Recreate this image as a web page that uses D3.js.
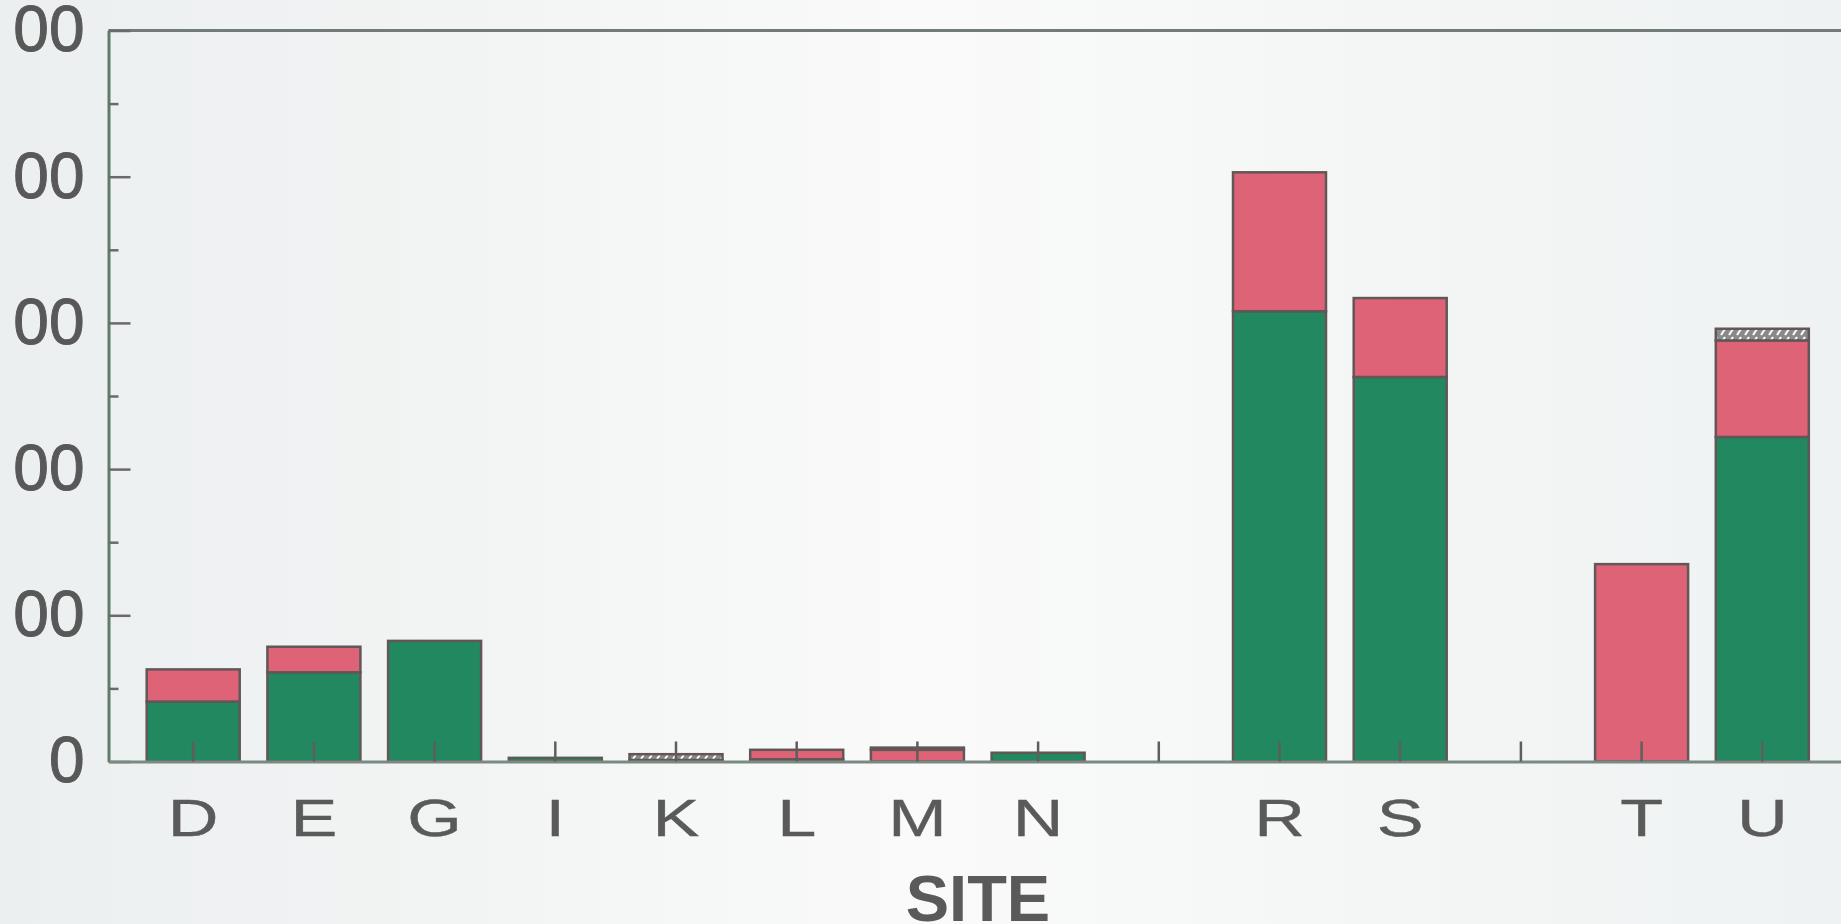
<!DOCTYPE html>
<html>
<head>
<meta charset="utf-8">
<script src="https://cdn.jsdelivr.net/npm/d3@7"></script>
<style>
  html, body { margin: 0; padding: 0; overflow: hidden; background: #f3f5f5; }
  svg { display: block; }
</style>
</head>
<body>
<svg id="chart" width="1841" height="924"></svg>
<script>
// Sites along the x axis; empty strings are spacer slots that only carry a tick.
const sites = ["D", "E", "G", "I", "K", "L", "M", "N", "", "R", "S", "", "T", "U"];

// Stacked components per site (same order as sites), bottom to top.
const greenValues   = [41, 61, 82.5, 2.5, 1, 1.5, 0, 6, 0, 308, 263, 0, 0, 222];
const redValues     = [22, 17.5, 0, 0, 0, 6.5, 8, 0, 0, 95, 54, 0, 135, 66];
const hatchedValues = [0, 0, 0, 0, 4, 0, 1.5, 0, 0, 0, 0, 0, 0, 8];

const yMajorTicks = [0, 100, 200, 300, 400, 500];
const yMinorTicks = [50, 150, 250, 350, 450];
const xTitle = "SITE";

const W = 1841, H = 924;
const plotLeft = 108.5, plotTop = 30.5, plotBottom = 761.5;
const font = "'Liberation Sans', Arial, sans-serif";

const svg = d3.select("#chart");
const defs = svg.append("defs");

// Soft paper-like background
const bg = defs.append("linearGradient").attr("id", "bg").attr("x1", 0).attr("x2", 1).attr("y1", 0).attr("y2", 0);
[["0%", "#eceff0"], ["25%", "#f2f4f4"], ["50%", "#fafafa"], ["75%", "#f4f6f6"], ["100%", "#eff2f2"]]
  .forEach(([o, c]) => bg.append("stop").attr("offset", o).attr("stop-color", c));
svg.append("rect").attr("width", W).attr("height", H).attr("fill", "url(#bg)");

// Hatch pattern for the third component
const pat = defs.append("pattern").attr("id", "hatch").attr("patternUnits", "userSpaceOnUse")
  .attr("width", 8).attr("height", 8);
pat.append("rect").attr("width", 8).attr("height", 8).attr("fill", "#8a8a8a");
pat.append("path").attr("d", "M1,7 L5,1").attr("stroke", "#ffffff").attr("stroke-width", 2);

// Clip for the left labels (the page edge trims the leading digits)
defs.append("clipPath").attr("id", "leftClip")
  .append("rect").attr("x", 12).attr("y", 0).attr("width", W).attr("height", H);

// Scales
const idx = d3.range(sites.length);
const x = d3.scaleBand().domain(idx).range([plotLeft, plotLeft + 1738.5])
  .paddingInner(0.2295).paddingOuter(0.3165);
const y = d3.scaleLinear().domain([0, 500]).range([plotBottom, plotTop]);

// Stack the components
const rows = idx.map(i => ({ i, green: greenValues[i], red: redValues[i], hatched: hatchedValues[i] }));
const keys = ["green", "red", "hatched"];
const fills = { green: "#21885f", red: "#df6376", hatched: "url(#hatch)" };
const stacked = d3.stack().keys(keys)(rows);

const bars = svg.append("g");
stacked.forEach(layer => {
  bars.selectAll(null)
    .data(layer.filter(d => d[1] - d[0] > 0))
    .join("rect")
    .attr("x", d => x(d.data.i))
    .attr("width", x.bandwidth())
    .attr("y", d => y(d[1]))
    .attr("height", d => y(d[0]) - y(d[1]))
    .attr("fill", fills[layer.key])
    .attr("stroke", "#625757")
    .attr("stroke-width", 2.5);
});

// Top frame line
svg.append("line")
  .attr("x1", plotLeft).attr("x2", W + 10)
  .attr("y1", y(500)).attr("y2", y(500))
  .attr("stroke", "#737b79").attr("stroke-width", 3);

// Y axis: inward ticks, labels on the left
const yAxisWrap = svg.append("g").attr("clip-path", "url(#leftClip)");
const yAxis = yAxisWrap.append("g").attr("transform", `translate(${plotLeft},0)`)
  .call(d3.axisLeft(y).tickValues(yMajorTicks).tickSizeInner(-22).tickSizeOuter(0).tickPadding(24).tickFormat(d3.format("d")));
yAxis.select(".domain").attr("stroke", "#5f7d66").attr("stroke-width", 3);
yAxis.selectAll(".tick line").attr("stroke", "#6a6a6a").attr("stroke-width", 2.5);
yAxis.selectAll(".tick text")
  .attr("fill", "#585858")
  .attr("stroke", "#585858").attr("stroke-width", 1)
  .attr("font-family", font)
  .attr("font-size", 64);

const yMinor = svg.append("g").attr("transform", `translate(${plotLeft},0)`)
  .call(d3.axisLeft(y).tickValues(yMinorTicks).tickSizeInner(-10).tickSizeOuter(0).tickFormat(""));
yMinor.select(".domain").remove();
yMinor.selectAll(".tick line").attr("stroke", "#6a6a6a").attr("stroke-width", 2.5);

// X axis: baseline, inward ticks at every slot, wide site letters below
const xAxis = svg.append("g").attr("transform", `translate(0,${plotBottom})`)
  .call(d3.axisBottom(x).tickSizeInner(-20).tickSizeOuter(0).tickPadding(37.6).tickFormat(i => sites[i]));
xAxis.select(".domain").attr("stroke", "#7b8a80").attr("stroke-width", 3);
xAxis.selectAll(".tick line").attr("stroke", "#5e5e5e").attr("stroke-width", 2.5);
xAxis.selectAll(".tick text")
  .attr("fill", "#5a5a5a")
  .attr("stroke", "#5a5a5a").attr("stroke-width", 0.4)
  .attr("font-family", font)
  .attr("font-size", 52)
  .attr("transform", "scale(1.35,1)");

// Axis title
svg.append("text")
  .attr("x", 978).attr("y", 921)
  .attr("text-anchor", "middle")
  .attr("font-family", font)
  .attr("font-weight", "bold")
  .attr("font-size", 65)
  .attr("fill", "#5a5a5a")
  .text(xTitle);
</script>
</body>
</html>
